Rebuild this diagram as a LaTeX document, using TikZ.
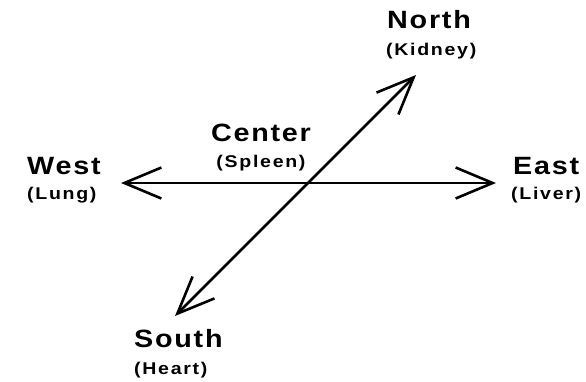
\documentclass[tikz,border=0pt]{standalone}
\usepackage{fontspec}
\setmainfont{Liberation Sans}
\usetikzlibrary{arrows.meta}
\newfontfamily\bigfont[LetterSpace=7,FakeStretch=1.15]{Liberation Sans Bold}
\newfontfamily\smallfont[LetterSpace=10,FakeStretch=1.15]{Liberation Sans Bold}
\tikzset{
  arr/.style={line width=2.6pt, {Straight Barb[length=37pt,width=31pt]}-{Straight Barb[length=37pt,width=31pt]}},
  big/.style={inner sep=0pt, font=\bigfont\fontsize{25}{28}\selectfont},
  small/.style={inner sep=0pt, font=\smallfont\fontsize{17}{19}\selectfont},
}
\begin{document}
\begin{tikzpicture}[x=1pt,y=-1pt]
\useasboundingbox (0,0) rectangle (586,382);
\coordinate (wtip) at (121,183);
\coordinate (etip) at (496,183);
\coordinate (stip) at (175,316);
\coordinate (ntip) at (416,75);
\draw[arr] (wtip) -- (etip);
\draw[arr] (stip) -- (ntip);
\node[big, anchor=base west] (north) at (387,29) {North};
\node[small, anchor=base west] (kidney) at (386,56) {(Kidney)};
\node[big, anchor=base] (center) at (261,142) {Center};
\node[small, anchor=base] (spleen) at (261,168) {(Spleen)};
\node[big, anchor=base west] (west) at (27,175) {West};
\node[small, anchor=base west] (lung) at (27,200) {(Lung)};
\node[big, anchor=base west] (east) at (513,175) {East};
\node[small, anchor=base west] (liver) at (511,200) {(Liver)};
\node[big, anchor=base west] (south) at (134,347) {South};
\node[small, anchor=base west] (heart) at (134,374) {(Heart)};
\end{tikzpicture}
\end{document}
